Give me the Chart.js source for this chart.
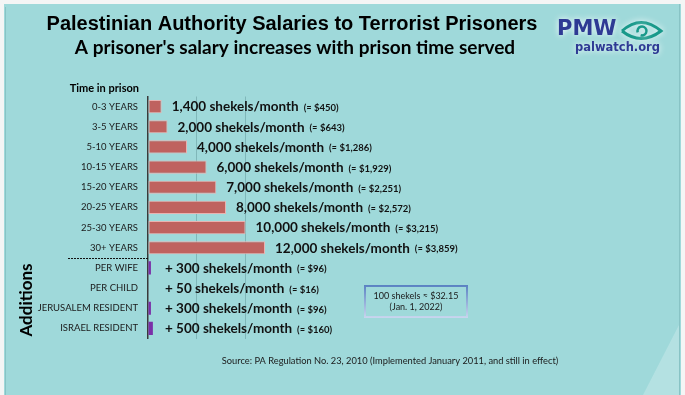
<!DOCTYPE html>
<html>
<head>
<meta charset="utf-8">
<script src="https://cdn.jsdelivr.net/npm/chart.js@4"></script>
<style>
  html, body { margin: 0; padding: 0; background: #f4f5f5; }
  #wrap { width: 685px; height: 395px; }
</style>
</head>
<body>
<div id="wrap"><canvas id="salaryChart" width="685" height="395"></canvas></div>
<script>
// ---------------------------Data------------------------------------------------
const yearCategories = ["0-3 YEARS", "3-5 YEARS", "5-10 YEARS", "10-15 YEARS", "15-20 YEARS", "20-25 YEARS", "25-30 YEARS", "30+ YEARS"];
const salaryShekels = [1400, 2000, 4000, 6000, 7000, 8000, 10000, 12000];
const salaryDollars = ["$450", "$643", "$1,286", "$1,929", "$2,251", "$2,572", "$3,215", "$3,859"];

const additionCategories = ["PER WIFE", "PER CHILD", "JERUSALEM RESIDENT", "ISRAEL RESIDENT"];
const additionShekels = [300, 50, 300, 500];
const additionDollars = ["$96", "$16", "$96", "$160"];

const axisTicks = [5000, 10000];
// ----------------------------------------------------------------------------------------------

const BG = "#9fd9da";
const labels = [...yearCategories, ...additionCategories];
const values = [...salaryShekels, ...additionShekels];
const nYears = yearCategories.length;

// Background, frame, titles, logo, notes
const decorPlugin = {
  id: "decor",
  beforeDraw(chart) {
    const ctx = chart.ctx;
    ctx.save();
    ctx.fillStyle = "#f4f5f5";
    ctx.fillRect(0, 0, 685, 395);
    ctx.fillStyle = BG;
    ctx.fillRect(4, 4, 677, 391);
    // lighter corner
    ctx.fillStyle = "rgba(255,255,255,0.22)";
    ctx.beginPath();
    ctx.moveTo(643, 395);
    ctx.lineTo(680, 323);
    ctx.lineTo(680, 395);
    ctx.closePath();
    ctx.fill();
    ctx.strokeStyle = "#88c3c5";
    ctx.lineWidth = 1;
    ctx.beginPath();
    ctx.moveTo(5.5, 7); ctx.lineTo(5.5, 395);
    ctx.moveTo(679.5, 4); ctx.lineTo(679.5, 395);
    ctx.stroke();
    ctx.restore();
  },
  afterDraw(chart) {
    const ctx = chart.ctx;
    ctx.save();
    ctx.textBaseline = "middle";
    ctx.fillStyle = "#000";

    // titles
    ctx.textAlign = "center";
    ctx.font = "bold 20px 'Liberation Sans', Arial, sans-serif";
    ctx.fillText("Palestinian Authority Salaries to Terrorist Prisoners", 292, 24);
    ctx.font = "bold 19px Lato, sans-serif";
    ctx.fillText("A prisoner's salary increases with prison time served", 295, 48);

    // logo
    ctx.save();
    ctx.shadowColor = "rgba(255,255,255,0.95)";
    ctx.shadowBlur = 6;
    ctx.fillStyle = "#2e3a94";
    ctx.textAlign = "left";
    ctx.font = "bold 21px 'DejaVu Sans', sans-serif";
    ctx.fillText("PMW", 557, 30);
    ctx.font = "bold 11.5px 'DejaVu Sans', sans-serif";
    ctx.fillText("palwatch.org", 575, 48);
    ctx.strokeStyle = "#18998a";
    ctx.lineWidth = 3;
    ctx.beginPath();
    ctx.moveTo(622, 31);
    ctx.quadraticCurveTo(641, 14, 661, 31);
    ctx.quadraticCurveTo(641, 46, 622, 31);
    ctx.stroke();
    ctx.lineWidth = 2.5;
    ctx.beginPath();
    ctx.arc(642, 31, 4.5, Math.PI * 0.9, Math.PI * 2.6);
    ctx.stroke();
    ctx.restore();

    // axis captions
    ctx.textAlign = "right";
    ctx.font = "bold 11px Lato, sans-serif";
    ctx.fillText("Time in prison", 139, 88);

    ctx.save();
    ctx.translate(27, 300);
    ctx.rotate(-Math.PI / 2);
    ctx.textAlign = "center";
    ctx.font = "bold 17px Lato, sans-serif";
    ctx.fillText("Additions", 0, 0);
    ctx.restore();

    // dashed separator between years and additions
    const yScale = chart.scales.y;
    const sepY = Math.round((yScale.getPixelForValue(nYears - 1) + yScale.getPixelForValue(nYears)) / 2) + 0.5;
    ctx.strokeStyle = "#111";
    ctx.lineWidth = 1;
    ctx.setLineDash([2, 1]);
    ctx.beginPath();
    ctx.moveTo(68, sepY);
    ctx.lineTo(chart.chartArea.left, sepY);
    ctx.stroke();
    ctx.setLineDash([]);

    // exchange note box
    const grad = ctx.createLinearGradient(0, 285, 0, 318);
    grad.addColorStop(0, "#5a82c2");
    grad.addColorStop(1, "#c9d6ee");
    ctx.strokeStyle = grad;
    ctx.lineWidth = 2;
    ctx.strokeRect(365, 286, 102, 31);
    ctx.fillStyle = "#1a1a1a";
    ctx.textAlign = "center";
    ctx.font = "9px Lato, sans-serif";
    ctx.fillText("100 shekels \u2248 $32.15", 416, 296);
    ctx.fillText("(Jan. 1, 2022)", 416, 307);

    // source
    ctx.font = "9.3px Lato, sans-serif";
    ctx.fillText("Source: PA Regulation No. 23, 2010 (Implemented January 2011, and still in effect)", 390, 361);
    ctx.restore();
  },
  afterDatasetsDraw(chart) {
    const ctx = chart.ctx;
    const meta = chart.getDatasetMeta(0);
    const left = chart.chartArea.left;
    ctx.save();
    ctx.textBaseline = "middle";
    ctx.textAlign = "left";
    ctx.fillStyle = "#111";
    meta.data.forEach((bar, i) => {
      const isYear = i < nYears;
      const shekels = values[i].toLocaleString("en-US");
      const main = (isYear ? "" : "+ ") + shekels + " shekels/month";
      const usd = "(\u2248 " + (isYear ? salaryDollars[i] : additionDollars[i - nYears]) + ")";
      const x = isYear ? bar.x + 10 : left + 17;
      const y = bar.y + 0.5;
      ctx.font = "bold 13.5px Lato, sans-serif";
      ctx.fillText(main, x, y);
      const w = ctx.measureText(main).width;
      ctx.font = "bold 9.5px Lato, sans-serif";
      ctx.fillText(usd, x + w + 5, y + 1);
    });
    ctx.restore();
  }
};

const ctx = document.getElementById("salaryChart").getContext("2d");
new Chart(ctx, {
  type: "bar",
  data: {
    labels: labels,
    datasets: [
      {
        data: values,
        backgroundColor: values.map((v, i) => (i < nYears ? "#bf625f" : "#7a2fa8")),
        borderColor: values.map((v, i) => (i < nYears ? "#e9b2b0" : "#7a2fa8")),
        borderWidth: values.map((v, i) => (i < nYears ? 1 : 0)),
        borderSkipped: false,
        barPercentage: 0.65,
        categoryPercentage: 1,
      },
    ],
  },
  options: {
    indexAxis: "y",
    responsive: false,
    animation: false,
    layout: {
      padding: { left: 0, right: 420, top: 96.5, bottom: 56.5 },
    },
    plugins: {
      legend: { display: false },
      tooltip: { enabled: false },
    },
    scales: {
      x: {
        min: 0,
        max: 12000,
        afterBuildTicks: (scale) => {
          scale.ticks = [0, ...axisTicks].map((v) => ({ value: v }));
        },
        ticks: { display: false },
        grid: {
          drawTicks: false,
          color: (c) => (axisTicks.includes(c.tick.value) ? "#80b7b9" : "rgba(0,0,0,0)"),
          lineWidth: 1,
        },
        border: { display: false },
        afterFit: (scale) => { scale.height = 0; },
      },
      y: {
        grid: { display: false, drawTicks: false },
        border: { display: true, color: "#3a3a3a", width: 1.5 },
        ticks: {
          color: "#1a1a1a",
          padding: 10,
          font: { family: "Lato", size: 9.5 },
        },
        afterFit: (scale) => { scale.width = 148; },
      },
    },
  },
  plugins: [decorPlugin],
});
</script>
</body>
</html>
